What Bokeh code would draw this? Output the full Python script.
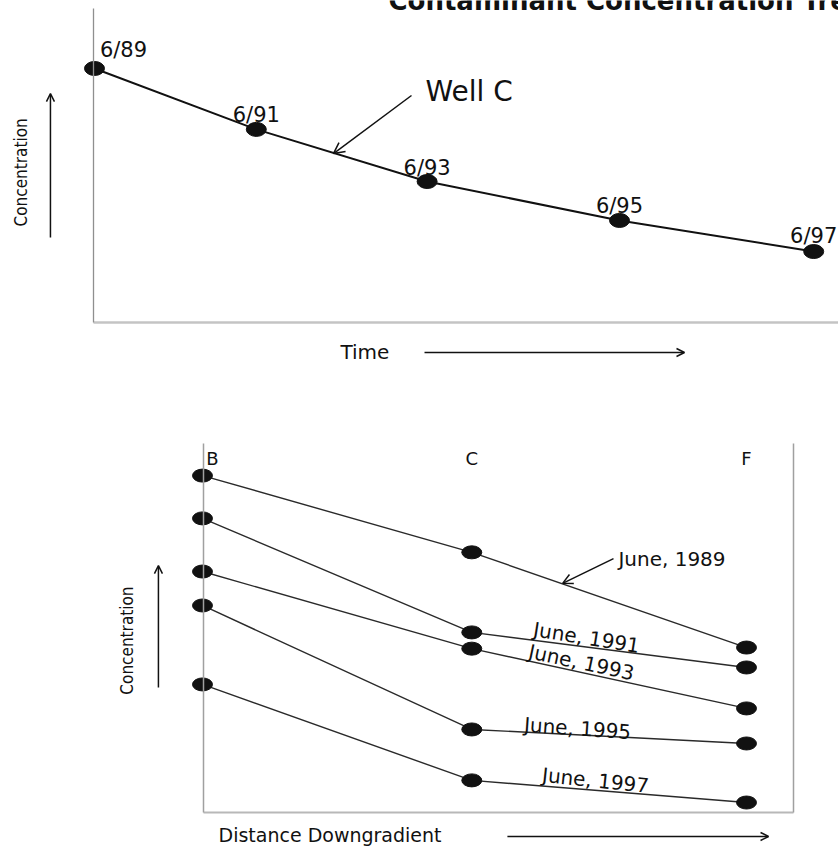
import math
from bokeh.plotting import figure
from bokeh.models import Arrow, OpenHead, Label, LinearAxis, Range1d, FixedTicker
from bokeh.layouts import column
from bokeh.embed import file_html
from bokeh.resources import INLINE

# ---------------- data ----------------
# Top panel: Well C concentration through time
time_labels = ["6/89", "6/91", "6/93", "6/95", "6/97"]
time_pos = [0.0, 1.80, 3.70, 5.84, 8.0]          # years after 6/89 as placed in the sketch
well_c_conc = [80.9, 61.5, 44.9, 32.5, 22.6]      # relative concentration

# Bottom panel: concentration vs distance downgradient (wells B, C, F)
wells = ["B", "C", "F"]
well_dist = [0.0, 0.99, 2.0]
year_labels = ["June, 1989", "June, 1991", "June, 1993", "June, 1995", "June, 1997"]
conc_1989 = [91.3, 70.5, 44.7]
conc_1991 = [79.7, 48.8, 39.3]
conc_1993 = [65.3, 44.4, 28.2]
conc_1995 = [56.1, 22.5, 18.7]
conc_1997 = [34.7, 8.7, 2.7]
series = [conc_1989, conc_1991, conc_1993, conc_1995, conc_1997]

FONT = "DejaVu Sans"
NARROW = "DejaVu Sans Condensed, Roboto, sans-serif"
AXIS_COLOR = "#a0a0a0"
INK = "#111111"


def make_fig(h, xr, yr):
    p = figure(width=838, height=h, x_range=Range1d(*xr), y_range=Range1d(*yr),
               output_backend="svg", toolbar_location=None,
               x_axis_type=None, y_axis_type=None,
               min_border_left=0, min_border_right=0,
               min_border_top=0, min_border_bottom=0)
    p.outline_line_color = None
    p.background_fill_color = "white"
    p.border_fill_color = "white"
    return p


def add_axis(p, side, loc, bounds, width=1.5, color=AXIS_COLOR):
    ax = LinearAxis(fixed_location=loc, bounds=bounds,
                    ticker=FixedTicker(ticks=[]),
                    major_tick_line_color=None, minor_tick_line_color=None,
                    major_label_text_font_size="0px",
                    axis_line_color=color, axis_line_width=width)
    p.add_layout(ax, side)


def arrow(p, x0, y0, x1, y1, size=9, width=1.5):
    p.add_layout(Arrow(x_start=x0, y_start=y0, x_end=x1, y_end=y1,
                       line_color=INK, line_width=width,
                       end=OpenHead(size=size, line_color=INK, line_width=width)))


# ---------------- top panel ----------------
TOP_PX_PER_UNIT = 3.14
p1 = make_fig(400, (-1.0456, 8.276), (-24.84, 102.55))
add_axis(p1, "left", -0.011, (0, 100), width=1.3, color="#8f8f8f")
add_axis(p1, "below", 0, (-0.011, 8.276), width=2.5, color="#c4c4c4")

p1.line(time_pos, well_c_conc, line_color=INK, line_width=2)
p1.ellipse(x=time_pos, y=well_c_conc, width=20, height=14,
           width_units="screen", height_units="screen",
           fill_color=INK, line_color=INK)
# labels float a few pixels above each sample
lift_px = [18, 14, 14, 14.5, 16]
label_y = [c + d / TOP_PX_PER_UNIT for c, d in zip(well_c_conc, lift_px)]
p1.text(x=time_pos, y=label_y, text=time_labels,
        x_offset=[29, 0, 0, 0, 0],
        text_align="center", text_baseline="middle",
        text_font={"value": FONT}, text_font_size="21px", text_color=INK)

p1.add_layout(Label(x=3.27, y=102.5, text="Contaminant Concentration Trends",
                    text_font=FONT, text_font_style="bold", text_font_size="26px",
                    text_baseline="middle", text_color=INK))
p1.add_layout(Label(x=3.682, y=73.6, text="Well C", text_font=FONT,
                    text_font_size="28px", text_baseline="middle", text_color=INK))
arrow(p1, 3.526, 72.3, 2.658, 53.8, size=11)

p1.add_layout(Label(x=-0.823, y=47.8, text="Concentration", angle=math.pi / 2,
                    text_font=NARROW, text_font_size="17px", text_align="center",
                    text_baseline="middle", text_color=INK))
arrow(p1, -0.49, 27.1, -0.49, 72.9, size=8)

p1.add_layout(Label(x=2.736, y=-9.55, text="Time", text_font=FONT,
                    text_font_size="20px", text_baseline="middle", text_color=INK))
arrow(p1, 3.671, -9.55, 6.563, -9.55, size=8)

# ---------------- bottom panel ----------------
p2 = make_fig(448, (-0.7426, 2.3382), (-9.76, 111.65))
add_axis(p2, "left", 0.0037, (0, 100))
add_axis(p2, "right", 2.173, (0, 100))
add_axis(p2, "below", 0, (0.0037, 2.173), width=2, color="#b8b8b8")

for conc in series:
    p2.line(well_dist, conc, line_color="#2a2a2a", line_width=1.4)
for conc in series:
    p2.ellipse(x=well_dist, y=conc, width=20, height=13,
               width_units="screen", height_units="screen",
               fill_color=INK, line_color=INK)

p2.text(x=well_dist, y=[96, 96, 96], text=wells, x_offset=[10, 0, 0],
        text_align="center", text_baseline="middle",
        text_font={"value": FONT}, text_font_size="18px", text_color=INK)

june_pos = [(1.529, 68.8, 0.0, "left"),
            (1.412, 47.4, -9.0, "center"),
            (1.393, 40.7, -12.0, "center"),
            (1.379, 22.8, -4.0, "center"),
            (1.445, 8.7, -6.0, "center")]
for lab, (x, y, ang, al) in zip(year_labels, june_pos):
    p2.add_layout(Label(x=x, y=y, text=lab, angle=math.radians(ang),
                        text_font=FONT, text_font_size="20px", text_align=al,
                        text_baseline="middle", text_color=INK))
arrow(p2, 1.511, 68.8, 1.324, 62.1, size=10)

p2.add_layout(Label(x=-0.276, y=46.6, text="Concentration", angle=math.pi / 2,
                    text_font=NARROW, text_font_size="17px", text_align="center",
                    text_baseline="middle", text_color=INK))
arrow(p2, -0.162, 33.9, -0.162, 66.9, size=8)

p2.add_layout(Label(x=0.059, y=-6.2, text="Distance Downgradient", text_font=FONT,
                    text_font_size="19px", text_baseline="middle", text_color=INK))
arrow(p2, 1.121, -6.5, 2.081, -6.5, size=8)

layout = column(p1, p2, spacing=0)
open("out.html", "w").write(file_html(layout, INLINE))
